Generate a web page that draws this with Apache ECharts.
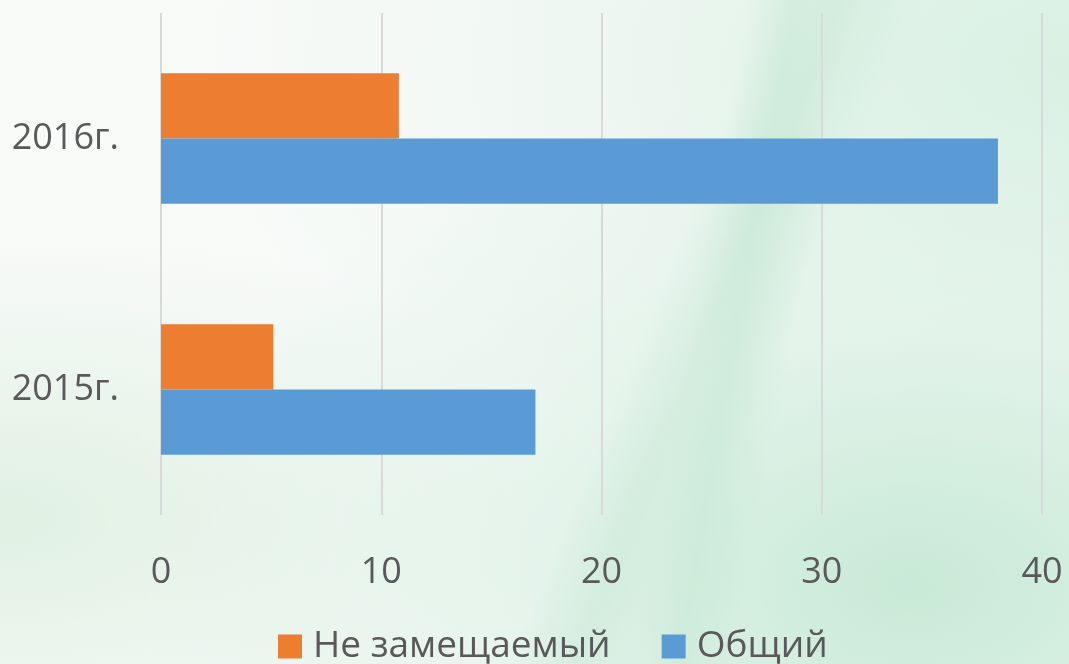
<!DOCTYPE html>
<html>
<head>
<meta charset="utf-8">
<script src="https://cdn.jsdelivr.net/npm/echarts@6/dist/echarts.min.js"></script>
<style>
  html, body { margin: 0; padding: 0; }
  #bg {
    position: absolute; left: 0; top: 0; width: 1069px; height: 664px;
    background:
      linear-gradient(112deg, rgba(255,255,255,0) 58%, rgba(196,230,211,0.45) 63%, rgba(255,255,255,0) 69%),
      linear-gradient(100deg, rgba(255,255,255,0) 63%, rgba(190,228,206,0.40) 67%, rgba(255,255,255,0) 72%),
      radial-gradient(ellipse at 85% 88%, rgba(196,232,212,0.9) 0%, rgba(220,241,229,0.6) 30%, rgba(255,255,255,0) 60%),
      radial-gradient(ellipse at 100% 10%, rgba(215,240,226,0.9) 0%, rgba(235,246,239,0.5) 35%, rgba(255,255,255,0) 60%),
      radial-gradient(ellipse at 0% 78%, rgba(218,238,222,0.8) 0%, rgba(255,255,255,0) 40%),
      linear-gradient(90deg, #f9fbf9 0%, #f7faf8 45%, #eaf6ef 100%);
  }
  #chart { position: absolute; left: 0; top: 0; width: 1069px; height: 664px; }
</style>
</head>
<body>
<div id="bg"></div>
<div id="chart"></div>
<script>
const categories = ['2015г.', '2016г.'];
const seriesNames = ['Не замещаемый', 'Общий'];
const nonReplaceable = [5.1, 10.8];
const total = [17, 38];
const xTicks = { min: 0, max: 40, interval: 10 };

const chart = echarts.init(document.getElementById('chart'), null, { renderer: 'canvas' });
const textColor = '#595959';
const font = '"Open Sans", "Noto Sans", sans-serif';

chart.setOption({
  backgroundColor: 'transparent',
  animation: false,
  grid: { left: 161, right: 27, top: 13, bottom: 149, containLabel: false },
  xAxis: {
    type: 'value',
    min: xTicks.min, max: xTicks.max, interval: xTicks.interval,
    axisLine: { show: false },
    axisTick: { show: false },
    splitLine: { show: true, lineStyle: { color: '#d9d9d9', width: 2 } },
    axisLabel: { color: textColor, fontFamily: font, fontSize: 36, margin: 40 }
  },
  yAxis: {
    type: 'category',
    data: categories,
    axisLine: { show: false },
    axisTick: { show: false },
    axisLabel: { color: textColor, fontFamily: font, fontSize: 36, margin: 42 }
  },
  legend: {
    data: seriesNames,
    top: 623,
    left: 273,
    itemWidth: 24, itemHeight: 24, itemGap: 51,
    icon: 'rect',
    textStyle: { color: textColor, fontFamily: font, fontSize: 37, padding: [0, 0, 0, 6] }
  },
  series: [
    {
      name: seriesNames[0], type: 'bar', data: nonReplaceable,
      itemStyle: { color: '#ED7D31' },
      barGap: '0%', barCategoryGap: '48%'
    },
    {
      name: seriesNames[1], type: 'bar', data: total,
      itemStyle: { color: '#5B9BD5' },
      barGap: '0%', barCategoryGap: '48%'
    }
  ]
});
</script>
</body>
</html>
